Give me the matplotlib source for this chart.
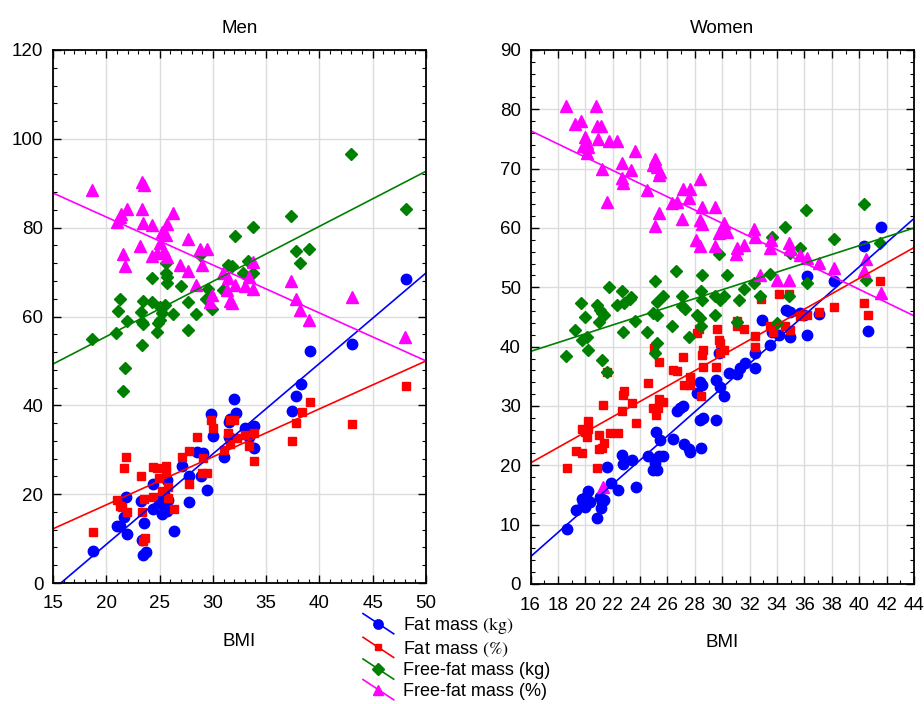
import matplotlib
matplotlib.use("Agg")
import matplotlib.pyplot as plt
from matplotlib.lines import Line2D
from matplotlib.legend_handler import HandlerBase
from matplotlib.ticker import MultipleLocator

plt.rcParams['font.family'] = ['Liberation Sans', 'DejaVu Sans']
plt.rcParams['mathtext.fontset'] = 'stix'

# ---------------- Men ----------------
men_fm_kg_x = [18.72, 20.97, 21.29, 21.82, 21.66, 21.97, 23.23, 23.54, 23.32, 23.41, 23.7, 24.41, 24.41,
               24.97, 25.04, 25.26, 25.67, 25.76, 25.67, 25.4, 26.35, 27.07, 27.79, 27.79, 28.48, 29.1,
               28.92, 29.48, 29.8, 30.04, 31.04, 31.55, 31.6, 31.55, 32.0, 32.17, 33.0, 33.42, 33.86,
               33.86, 37.4, 37.8, 38.24, 39.12, 43.09, 48.12]
men_fm_kg_y = [7.3, 12.9, 12.9, 19.3, 14.8, 11.0, 18.5, 13.6, 9.7, 6.3, 6.9, 22.4, 16.6,
               18.8, 17.9, 15.5, 23.2, 18.7, 16.3, 20.0, 11.8, 26.4, 24.1, 18.3, 29.6, 29.2,
               24.1, 20.9, 38.0, 33.2, 28.4, 36.3, 36.9, 32.9, 41.4, 38.2, 35.0, 32.9, 35.4,
               30.5, 38.7, 42.1, 44.8, 52.3, 53.7, 68.4]

men_fm_pct_x = [18.72, 20.97, 21.29, 21.45, 21.82, 21.69, 21.97, 23.23, 23.32, 23.54, 23.44, 23.63, 24.4,
                24.73, 24.41, 24.97, 25.2, 25.6, 25.6, 25.82, 25.82, 26.35, 27.07, 27.79, 27.79, 28.48,
                28.95, 29.48, 29.04, 29.8, 30.04, 31.04, 31.45, 31.6, 31.6, 32.0, 32.23, 33.02, 33.43,
                33.86, 33.86, 37.39, 37.8, 38.34, 39.11, 43.09, 48.12]
men_fm_pct_y = [11.4, 18.7, 17.3, 17.0, 28.4, 25.8, 15.9, 24.1, 15.9, 18.8, 9.5, 10.1, 26.2,
                25.8, 19.3, 23.6, 20.8, 26.4, 25.1, 21.7, 19.1, 16.6, 28.4, 29.8, 22.3, 32.8,
                24.7, 24.7, 28.1, 36.7, 35.0, 29.9, 33.8, 31.3, 36.7, 36.7, 32.7, 33.3, 30.9,
                33.7, 27.5, 31.9, 36.0, 38.4, 40.7, 35.7, 44.4]

men_ffm_kg_x = [18.63, 20.91, 21.07, 21.29, 21.91, 21.76, 21.6, 23.32, 23.48, 23.26, 23.32, 23.48, 24.26,
                24.3, 24.73, 25.04, 25.2, 25.04, 24.88, 25.51, 25.6, 25.73, 25.73, 25.6, 26.29, 26.98,
                27.7, 27.7, 28.42, 28.8, 29.52, 29.95, 29.36, 30.98, 31.45, 31.77, 32.08, 32.8, 33.33,
                33.8, 33.8, 37.33, 37.77, 38.18, 39.05, 42.96, 48.09]
men_ffm_kg_y = [54.9, 56.3, 61.3, 63.9, 59.0, 48.3, 43.3, 53.6, 63.6, 61.1, 58.8, 58.3, 63.3,
                68.6, 56.6, 62.2, 60.7, 59.2, 58.5, 62.6, 69.7, 69.0, 67.5, 72.1, 60.5, 66.9,
                63.3, 57.0, 60.5, 73.8, 66.1, 61.7, 63.9, 66.0, 71.6, 71.4, 78.1, 69.7, 72.5,
                69.7, 80.2, 82.6, 74.8, 72.0, 75.3, 96.6, 84.2]

men_ffm_pct_x = [18.63, 20.97, 21.29, 21.4, 21.76, 21.6, 21.91, 23.16, 23.32, 23.48, 23.32, 23.57, 24.3,
                 24.73, 24.26, 25.04, 25.2, 25.67, 25.4, 25.6, 25.73, 26.29, 26.92, 27.7, 27.7, 28.39,
                 28.8, 29.42, 28.95, 29.73, 29.89, 30.98, 31.3, 31.45, 31.6, 31.77, 32.08, 33.0, 33.4,
                 33.8, 33.8, 37.33, 37.77, 38.18, 39.06, 43.03, 48.03]
men_ffm_pct_y = [88.4, 81.2, 82.5, 83.0, 71.4, 74.0, 84.1, 75.8, 84.1, 81.1, 90.3, 89.7, 73.7,
                 74.3, 80.5, 76.5, 79.1, 73.4, 74.7, 78.3, 80.8, 83.3, 71.6, 70.2, 77.5, 67.0,
                 75.3, 75.1, 71.7, 63.3, 64.8, 69.9, 66.0, 68.6, 63.5, 63.1, 67.2, 66.8, 68.9,
                 66.2, 72.3, 67.9, 64.0, 61.4, 59.1, 64.3, 55.4]

# regression lines read at the axis limits (BMI 15 and 50)
men_fit_x = [15, 50]
men_fit_fm_kg = [-1.5, 69.8]
men_fit_fm_pct = [12.2, 50.0]
men_fit_ffm_kg = [49.3, 92.7]
men_fit_ffm_pct = [87.8, 50.0]

# ---------------- Women ----------------
wom_fm_kg_x = [18.65, 19.33, 19.74, 19.86, 20.06, 20.18, 19.98, 20.35, 21.08, 21.2, 21.37, 21.13, 20.84,
               21.57, 21.86, 22.42, 22.71, 22.79, 23.4, 23.71, 24.61, 25.18, 25.42, 24.98, 25.27, 25.1,
               25.35, 25.7, 26.37, 26.69, 27.12, 26.93, 27.22, 27.61, 27.54, 28.15, 28.34, 28.51, 28.44,
               28.39, 28.59, 29.56, 29.56, 29.73, 29.85, 30.1, 30.46, 31.07, 31.26, 31.68, 32.41, 32.41,
               32.9, 33.5, 33.63, 34.11, 34.68, 34.92, 34.97, 35.7, 35.95, 36.19, 37.04, 40.62, 36.19,
               38.19, 40.38, 41.6]
wom_fm_kg_y = [9.2, 12.4, 14.3, 13.6, 14.7, 15.6, 13.0, 13.9, 14.7, 13.9, 14.2, 12.8, 11.2,
               19.8, 17.1, 15.8, 21.7, 20.3, 20.9, 16.4, 21.6, 25.7, 24.3, 19.2, 19.2, 20.4,
               21.5, 21.6, 24.4, 29.2, 30.0, 29.6, 23.6, 22.3, 22.7, 32.2, 34.1, 33.5, 23.0,
               27.6, 27.9, 27.6, 34.3, 38.9, 33.2, 31.7, 35.5, 35.4, 36.4, 37.3, 38.9, 36.4,
               44.5, 40.2, 42.5, 42.0, 46.1, 45.8, 41.7, 45.6, 45.3, 42.0, 45.5, 42.7, 51.9,
               51.1, 57.0, 60.1]

wom_fm_pct_x = [18.65, 19.3, 19.74, 20.84, 21.03, 21.2, 20.1, 20.0, 19.79, 20.23, 20.18, 21.03, 21.81,
                22.37, 21.28, 21.57, 22.67, 22.74, 22.86, 23.4, 23.71, 24.61, 25.15, 24.93, 25.3, 25.7,
                25.4, 25.35, 25.03, 26.39, 26.69, 27.22, 27.61, 27.61, 27.12, 28.46, 28.56, 28.5, 28.56,
                28.15, 28.27, 29.56, 30.1, 29.85, 29.73, 29.8, 29.6, 31.1, 31.6, 31.07, 32.41, 32.41,
                33.7, 33.5, 32.85, 34.11, 34.84, 34.97, 34.6, 35.7, 36.19, 37.04, 38.13, 40.62, 40.38,
                41.55, 21.37]
wom_fm_pct_y = [19.5, 22.5, 22.0, 19.5, 22.7, 22.9, 24.7, 25.7, 26.1, 26.2, 27.4, 25.1, 25.5,
                25.4, 30.2, 35.8, 29.2, 31.9, 32.5, 30.5, 27.1, 33.8, 28.5, 29.6, 29.6, 30.7,
                31.1, 37.5, 39.7, 36.1, 35.9, 33.5, 33.5, 34.9, 38.3, 31.7, 36.6, 38.6, 39.4,
                42.3, 42.9, 36.6, 39.4, 40.6, 41.1, 38.9, 42.9, 43.4, 42.9, 44.4, 40.0, 41.8,
                42.4, 43.5, 48.0, 48.9, 48.9, 42.8, 43.5, 45.1, 45.3, 45.9, 46.7, 45.3, 47.3,
                51.1, 23.8]

wom_ffm_kg_x = [18.6, 19.25, 19.74, 20.1, 19.98, 20.23, 19.67, 20.84, 21.08, 21.2, 21.03, 21.33, 21.2,
                21.57, 22.35, 22.86, 23.27, 22.74, 23.64, 24.49, 24.93, 25.23, 25.23, 25.1, 25.27, 26.32,
                27.05, 27.3, 27.54, 28.15, 28.39, 28.44, 28.51, 29.49, 29.8, 21.76, 22.67, 23.32, 25.1,
                25.7, 26.64, 27.05, 28.51, 28.44, 29.73, 30.34, 29.49, 30.1, 31.2, 31.6, 32.34, 32.78,
                33.5, 33.63, 34.6, 34.97, 34.84, 35.7, 36.14, 36.19, 38.13, 40.33, 41.5, 40.52, 31.07,
                34.0]
wom_ffm_kg_y = [38.4, 42.8, 41.2, 41.6, 45.0, 39.4, 47.4, 47.0, 46.2, 45.6, 44.2, 45.4, 37.8,
                35.8, 47.0, 47.3, 48.0, 42.5, 44.4, 42.4, 45.6, 45.3, 40.6, 39.0, 47.6, 43.4,
                46.9, 46.4, 41.7, 45.3, 44.8, 43.5, 47.9, 45.3, 47.9, 50.0, 49.4, 48.3, 51.0,
                48.5, 52.8, 48.6, 52.0, 49.3, 55.6, 52.0, 48.5, 48.5, 47.8, 49.7, 50.8, 48.5,
                52.3, 58.4, 60.1, 55.8, 48.5, 56.7, 63.0, 50.8, 58.1, 64.0, 57.4, 51.2, 44.2,
                44.0]

wom_ffm_pct_x = [18.6, 19.25, 19.67, 20.79, 20.88, 21.13, 19.98, 20.1, 19.86, 20.22, 20.1, 20.96, 21.76,
                 22.35, 21.2, 21.57, 22.67, 22.67, 22.79, 23.32, 23.64, 24.49, 25.1, 24.98, 25.23, 25.47,
                 25.35, 25.35, 25.1, 26.32, 26.69, 27.13, 27.61, 27.54, 27.05, 28.39, 28.51, 28.39, 28.51,
                 28.1, 28.34, 29.49, 30.1, 30.22, 29.73, 30.34, 29.49, 31.07, 31.6, 31.02, 32.34, 32.41,
                 33.58, 33.5, 32.78, 34.0, 34.84, 34.84, 34.97, 35.7, 36.19, 37.04, 38.13, 40.52, 40.33,
                 41.6, 21.32]
wom_ffm_pct_y = [80.6, 77.5, 78.1, 80.6, 77.2, 77.2, 75.4, 74.3, 73.8, 73.7, 72.7, 75.0, 74.6,
                 74.7, 69.9, 64.3, 70.9, 68.4, 67.6, 69.7, 72.9, 66.4, 71.6, 70.6, 70.3, 69.5,
                 68.9, 62.5, 60.3, 64.2, 64.4, 66.5, 66.5, 65.0, 61.5, 68.2, 63.5, 61.4, 60.7,
                 58.0, 57.0, 63.6, 60.8, 59.7, 59.1, 59.4, 57.0, 56.6, 57.1, 55.6, 59.8, 58.4,
                 58.0, 56.6, 52.1, 51.2, 51.2, 57.4, 56.4, 55.5, 54.9, 54.1, 53.2, 54.7, 52.8,
                 49.0, 16.4]

wom_fit_x = [16, 44]
wom_fit_fm_kg = [4.6, 61.6]
wom_fit_fm_pct = [20.4, 56.7]
wom_fit_ffm_kg = [39.2, 60.0]
wom_fit_ffm_pct = [76.4, 45.2]

legend_labels = [r'Fat mass $\mathrm{(kg)}$', r'Fat mass $\mathrm{(\%)}$',
                 'Free-fat mass (kg)', 'Free-fat mass (%)']

BLUE, RED, GREEN, MAG = '#0000FF', '#FF0000', '#008000', '#FF00FF'
styles = [
    dict(color=BLUE, marker='o', ms=7.5),
    dict(color=RED, marker='s', ms=5.5),
    dict(color=GREEN, marker='D', ms=6.5),
    dict(color=MAG, marker='^', ms=8.5),
]

W, H = 924, 704
fig = plt.figure(figsize=(W / 100, H / 100), dpi=100)


def px_axes(left, top, right, bottom):
    return fig.add_axes([left / W, 1 - bottom / H, (right - left) / W, (bottom - top) / H])


ax_m = px_axes(53, 50, 426, 583)
ax_w = px_axes(530.5, 50, 914, 584)


def draw(ax, series, fit_x, fits, xlim, ylim, xmaj, ymaj, ymin, title):
    ax.set_xlim(*xlim)
    ax.set_ylim(*ylim)
    ax.grid(True, color='#dcdcdc', linewidth=1.0, zorder=0)
    ax.set_axisbelow(True)
    for (xs, ys), st in zip(series, styles):
        ax.plot(xs, ys, linestyle='none', marker=st['marker'], ms=st['ms'],
                color=st['color'], mec=st['color'], zorder=3, clip_on=False)
    for fy, st in zip(fits, styles):
        ax.plot(fit_x, fy, color=st['color'], lw=1.2, zorder=4)
    ax.xaxis.set_major_locator(MultipleLocator(xmaj))
    ax.xaxis.set_minor_locator(MultipleLocator(1))
    ax.yaxis.set_major_locator(MultipleLocator(ymaj))
    ax.yaxis.set_minor_locator(MultipleLocator(ymin))
    ax.tick_params(which='both', direction='in', top=True, right=True, color='black')
    ax.tick_params(which='major', length=6, width=1.0, labelsize=13.5)
    ax.tick_params(which='minor', length=3, width=0.8)
    ax.tick_params(axis='x', which='major', pad=9)
    ax.tick_params(axis='y', which='major', pad=7)
    for sp in ax.spines.values():
        sp.set_linewidth(1.3)
        sp.set_zorder(5)
    ax.set_title(title, fontsize=13.5, pad=12)
    ax.set_xlabel('BMI', fontsize=13.5, labelpad=15)


draw(ax_m,
     [(men_fm_kg_x, men_fm_kg_y), (men_fm_pct_x, men_fm_pct_y),
      (men_ffm_kg_x, men_ffm_kg_y), (men_ffm_pct_x, men_ffm_pct_y)],
     men_fit_x, [men_fit_fm_kg, men_fit_fm_pct, men_fit_ffm_kg, men_fit_ffm_pct],
     (15, 50), (0, 120), 5, 20, 4, 'Men')
draw(ax_w,
     [(wom_fm_kg_x, wom_fm_kg_y), (wom_fm_pct_x, wom_fm_pct_y),
      (wom_ffm_kg_x, wom_ffm_kg_y), (wom_ffm_pct_x, wom_ffm_pct_y)],
     wom_fit_x, [wom_fit_fm_kg, wom_fit_fm_pct, wom_fit_ffm_kg, wom_fit_ffm_pct],
     (16, 44), (0, 90), 2, 10, 2, 'Women')


class DiagHandler(HandlerBase):
    def create_artists(self, legend, orig_handle, xdescent, ydescent, width, height, fontsize, trans):
        x0, x1 = -xdescent, -xdescent + width
        yc = -ydescent + height / 2
        dy = height * 0.8
        ln = Line2D([x0, x1], [yc + dy, yc - dy], color=orig_handle.get_color(), lw=1.2)
        mk = Line2D([(x0 + x1) / 2], [yc], marker=orig_handle.get_marker(),
                    ms=orig_handle.get_markersize(), color=orig_handle.get_color(), linestyle='none')
        ln.set_transform(trans)
        mk.set_transform(trans)
        return [ln, mk]


handles = [Line2D([], [], color=st['color'], marker=st['marker'], ms=st['ms'] * 0.9) for st in styles]
fig.legend(handles, legend_labels, loc='upper left', bbox_to_anchor=(363 / W, 1 - 615 / H),
           frameon=False, fontsize=13, borderpad=0, borderaxespad=0, handlelength=1.7,
           handletextpad=0.5, labelspacing=0.2,
           handler_map={Line2D: DiagHandler()})

fig.savefig('out.png', dpi=100)
